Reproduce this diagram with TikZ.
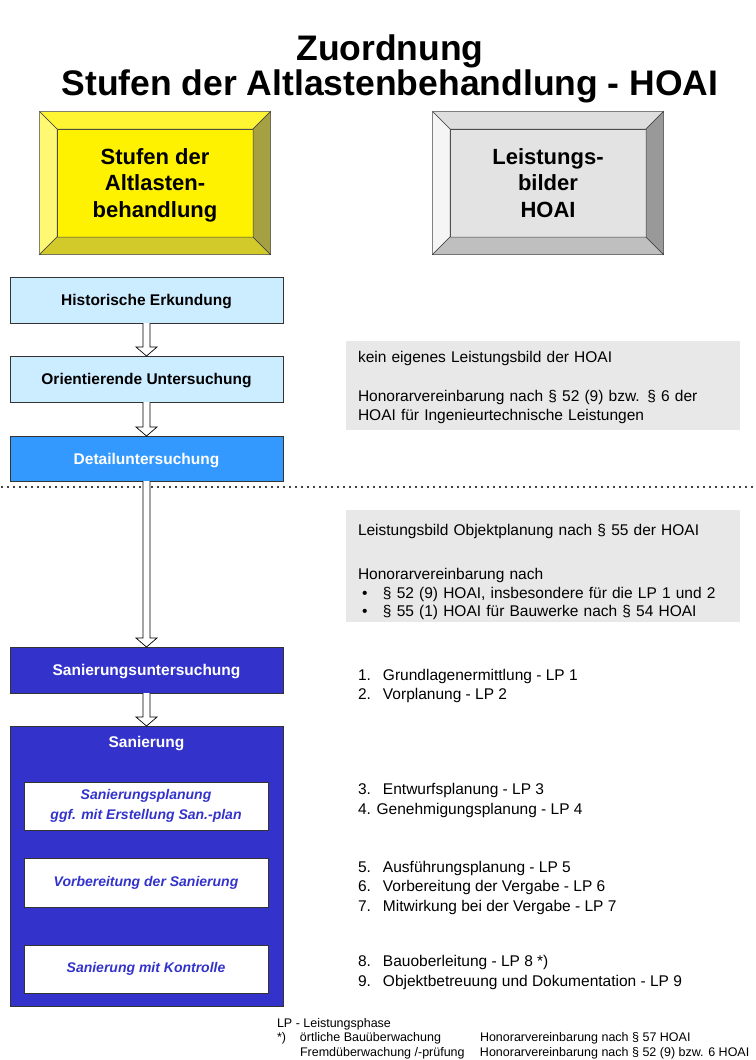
\documentclass[tikz,border=0pt]{standalone}
\usepackage{fontspec}
\setmainfont{Liberation Sans}
\usepackage{tikz}
\usetikzlibrary{calc}

\definecolor{LightStep}{HTML}{CCECFF}
\definecolor{DetailBlue}{HTML}{3399FF}
\definecolor{SanBlue}{HTML}{3333CC}
\definecolor{NoteGray}{HTML}{E8E8E8}

% bevelled frame round a face node: node, depth, top, left, bottom, right
\newcommand{\bevel}[6]{%
  \filldraw[bevelline, fill=#3] (#1.north west) -- ($(#1.north west)+(-#2,-#2)$) -- ($(#1.north east)+(#2,-#2)$) -- (#1.north east) -- cycle;
  \filldraw[bevelline, fill=#4] (#1.north west) -- ($(#1.north west)+(-#2,-#2)$) -- ($(#1.south west)+(-#2,#2)$) -- (#1.south west) -- cycle;
  \filldraw[bevelline, fill=#5] (#1.south west) -- ($(#1.south west)+(-#2,#2)$) -- ($(#1.south east)+(#2,#2)$) -- (#1.south east) -- cycle;
  \filldraw[bevelline, fill=#6] (#1.north east) -- ($(#1.north east)+(#2,-#2)$) -- ($(#1.south east)+(#2,#2)$) -- (#1.south east) -- cycle;}

% hollow block arrow from one box down to the next
\newcommand{\hollowarrow}[2]{%
  \draw[hollow] let \p1=(#1.south), \p2=(#2.north) in
    (\x1-3.5pt,\y1) -- (\x1-3.5pt,\y2+9pt) -- (\x1-10.5pt,\y2+9pt) -- (\x1,\y2)
    -- (\x1+10.5pt,\y2+9pt) -- (\x1+3.5pt,\y2+9pt) -- (\x1+3.5pt,\y1);}

\begin{document}
\begin{tikzpicture}[x=1pt, y=-1pt,
      every node/.append style={inner sep=0pt, outer sep=0pt}]
    \tikzstyle{bevelline} = [draw=black!75, line width=0.5pt]
    \tikzstyle{face} = [draw=black!75, line width=0.5pt, minimum width=196, minimum height=108, text depth=0pt, align=center, font=\bfseries\fontsize{22}{26.5}\selectfont]
    \tikzstyle{stage} = [draw=black!80, line width=0.7pt, minimum width=273, minimum height=46, text depth=0pt, align=center, font=\bfseries\fontsize{15.5}{18}\selectfont]
    \tikzstyle{substage} = [draw=black!80, line width=0.7pt, fill=white, minimum width=244, minimum height=48, align=center, text=SanBlue, font=\bfseries\itshape\fontsize{14}{20}\selectfont]
    \tikzstyle{note} = [fill=NoteGray, minimum width=394]
    \tikzstyle{notetext} = [text width=370, align=left, font=\fontsize{15.5}{19.5}\selectfont]
    \tikzstyle{listtext} = [anchor=west, align=left, font=\fontsize{15.5}{19.5}\selectfont]
    \tikzstyle{hollow} = [draw=black, line width=0.7pt, fill=white]
    \tikzstyle{dotline} = [line width=2.4pt, line cap=round, dash pattern=on 0pt off 6pt]

    \useasboundingbox (0,0) rectangle (755,1060);

    \node (title) at (390,68.5) [align=center, font=\bfseries\fontsize{35.5}{35}\selectfont]
      {Zuordnung\\Stufen der Altlastenbehandlung - HOAI};

    % headings
    \node (stufen) at (155,183) [face, fill=yellow] {Stufen der\\Altlasten-\\behandlung};
    \bevel{stufen}{17.5}{yellow!80!white}{yellow!55!white}{yellow!80!black}{yellow!60!black}
    \node (hoai) at (548,183) [face, fill=black!11] {Leistungs-\\bilder\\HOAI};
    \bevel{hoai}{17.5}{black!13}{black!4}{black!25}{black!40}

    \draw[dotline] (2,487) -- (755,487);

    % stages
    \node (hist) at (146.5,300) [stage, fill=LightStep] {Historische Erkundung};
    \node (orient) at (146.5,379) [stage, fill=LightStep] {Orientierende Untersuchung};
    \node (detail) at (146.5,458.5) [stage, fill=DetailBlue, minimum height=45, text=white] {Detailuntersuchung};
    \node (sanunt) at (146.5,670) [stage, fill=SanBlue, text=white] {Sanierungsuntersuchung};
    \node (san) at (146.5,866) [stage, fill=SanBlue, minimum height=280] {};
    \node (santitle) at (146.5,742) [text=white, text depth=0pt, font=\bfseries\fontsize{15.5}{18}\selectfont] {Sanierung};
    \node (planung) at (146,806) [substage] {Sanierungsplanung\\ggf. mit Erstellung San.-plan};
    \node (vorber) at (146,882.5) [substage, minimum height=49] {Vorbereitung der Sanierung};
    \node (kontrolle) at (146,969) [substage] {Sanierung mit Kontrolle};

    \hollowarrow{hist}{orient}
    \hollowarrow{orient}{detail}
    \hollowarrow{detail}{sanunt}
    \hollowarrow{sanunt}{san}

    % right column
    \node (nohoai) at (543,385.5) [note, minimum height=89] {};
    \node (nohoaitext) at (543,387.5) [notetext]
      {kein eigenes Leistungsbild der HOAI\\[19.5pt]
       Honorarvereinbarung nach § 52 (9) bzw. § 6 der\\
       HOAI für Ingenieurtechnische Leistungen};
    \node (objekt) at (543,566) [note, minimum height=112] {};
    \node (objekttext) at (543,572) [notetext, font=\fontsize{15.5}{18.5}\selectfont]
      {Leistungsbild Objektplanung nach § 55 der HOAI\\[26pt]
       Honorarvereinbarung nach\\
       \hspace*{4pt}\makebox[21pt][l]{\textbullet}§ 52 (9) HOAI, insbesondere für die LP 1 und 2\\
       \hspace*{4pt}\makebox[21pt][l]{\textbullet}§ 55 (1) HOAI für Bauwerke nach § 54 HOAI};

    \node (lp12) at (358,686) [listtext]
      {\makebox[25pt][l]{1.}Grundlagenermittlung - LP 1\\\makebox[25pt][l]{2.}Vorplanung - LP 2};
    \node (lp34) at (358,800.5) [listtext]
      {\makebox[25pt][l]{3.}Entwurfsplanung - LP 3\\4. Genehmigungsplanung - LP 4};
    \node (lp567) at (358,887.5) [listtext]
      {\makebox[25pt][l]{5.}Ausführungsplanung - LP 5\\\makebox[25pt][l]{6.}Vorbereitung der Vergabe - LP 6\\\makebox[25pt][l]{7.}Mitwirkung bei der Vergabe - LP 7};
    \node (lp89) at (358,972.5) [listtext]
      {\makebox[25pt][l]{8.}Bauoberleitung - LP 8 *)\\\makebox[25pt][l]{9.}Objektbetreuung und Dokumentation - LP 9};

    \node (legend) at (277,1038.5) [anchor=west, align=left, font=\fontsize{12.5}{14.5}\selectfont]
      {LP - Leistungsphase\\
       \makebox[23pt][l]{*)}\makebox[180pt][l]{örtliche Bauüberwachung}Honorarvereinbarung nach § 57 HOAI\\
       \makebox[23pt][l]{}\makebox[180pt][l]{Fremdüberwachung /-prüfung}Honorarvereinbarung nach § 52 (9) bzw. 6 HOAI};
\end{tikzpicture}
\end{document}
